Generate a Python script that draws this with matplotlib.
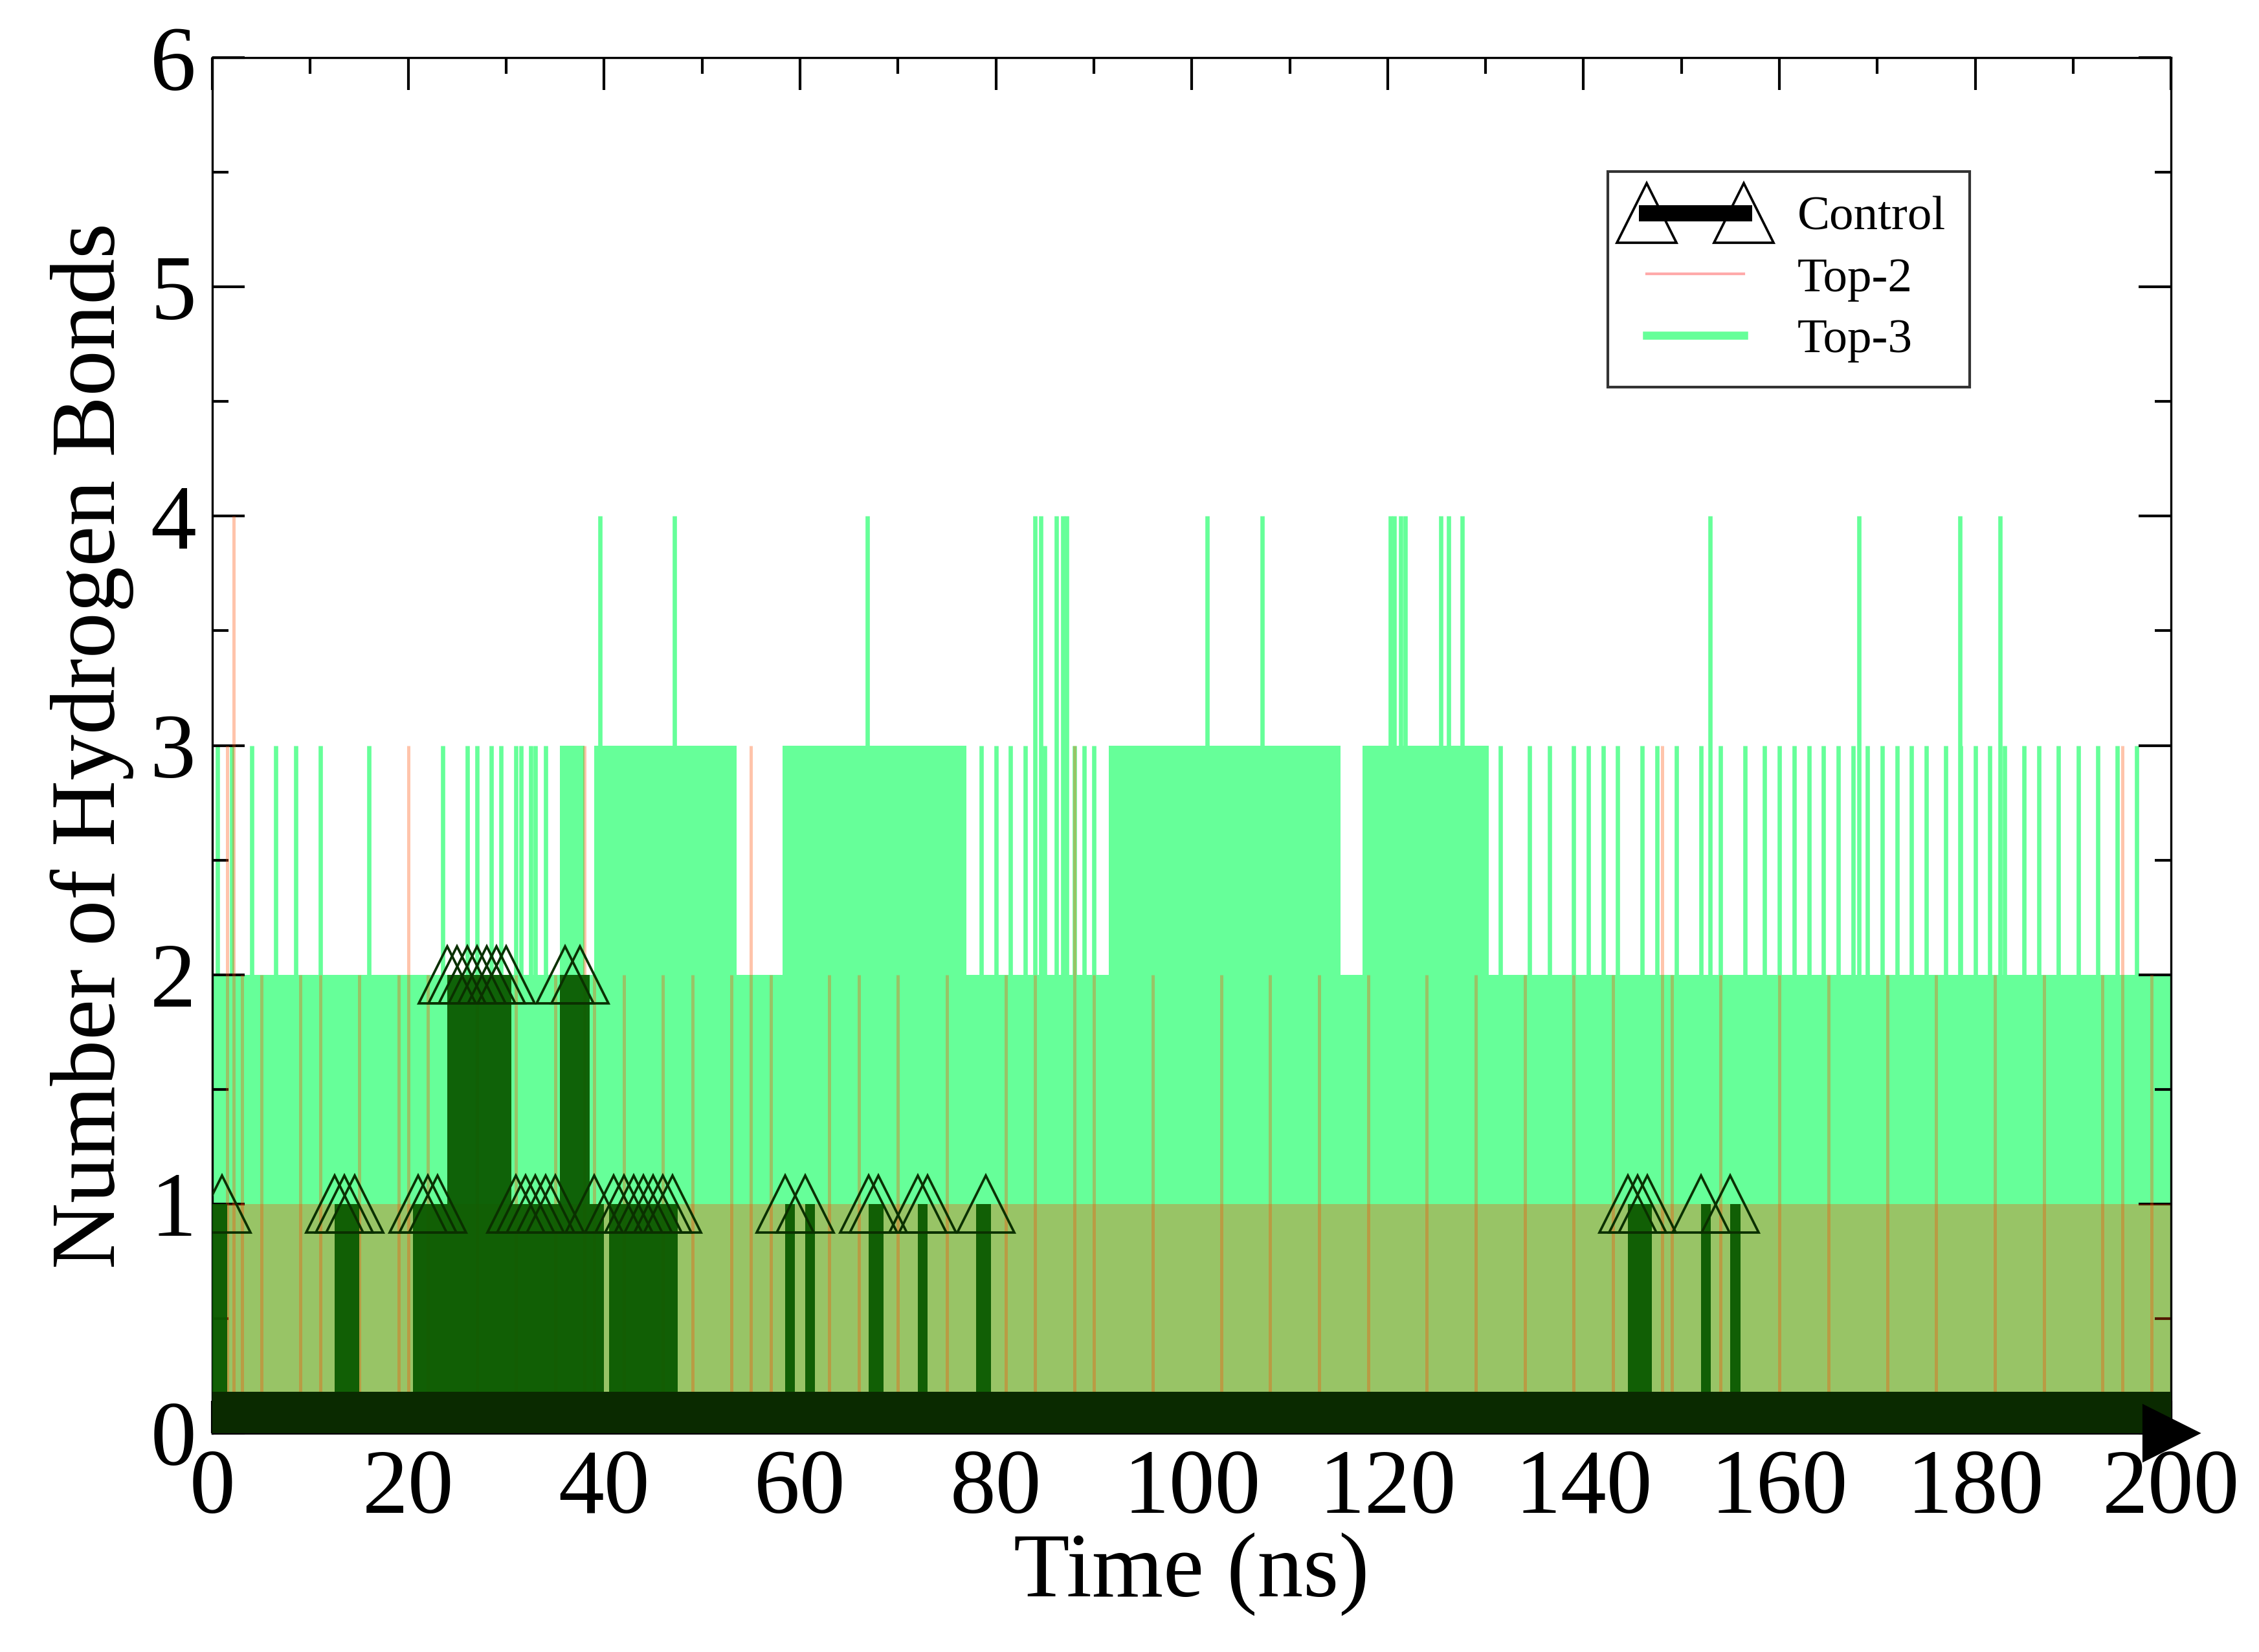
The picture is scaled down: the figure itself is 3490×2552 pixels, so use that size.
"""Hydrogen bond count over time for Control, Top-2 and Top-3 (xmgrace style)."""

import matplotlib

matplotlib.use("Agg")
import matplotlib.pyplot as plt
from matplotlib.lines import Line2D

# ---- data (time in ns) ----
# Control: intervals (start, end, n_hbonds) where count is above zero
control_segments = [
    (0.0, 1.5, 1), (12.5, 15.0, 1), (20.5, 24.0, 1), (24.0, 30.5, 2),
    (30.5, 35.5, 1), (35.5, 38.5, 2), (38.5, 40.0, 1), (40.5, 47.5, 1),
    (58.5, 59.5, 1), (60.5, 61.5, 1), (67.0, 68.5, 1), (72.0, 73.0, 1),
    (78.0, 79.5, 1), (144.5, 147.0, 1), (152.0, 153.0, 1), (155.0, 156.0, 1),
]
control_peaks1 = [1, 12.5, 13.5, 14.5, 21, 22, 23, 31, 32, 33, 34, 35, 39,
                  41, 42, 43, 44, 45, 46, 47, 58.5, 60.5, 67, 68, 72, 73, 79,
                  144.5, 145.5, 146.5, 152, 155]
control_peaks2 = [24, 25, 26, 27, 28, 29, 30, 36, 37.5]

# Top-2: band it fills most of the run, plus spikes
top2_band = [(0.0, 200.0, 0, 1)]
top2_spikes2 = [3, 5, 9, 11, 15, 19, 22, 27, 31, 35, 39, 42, 46, 49, 53, 57,
                63, 66, 70, 75, 81, 84, 90, 96, 103, 108, 113, 118, 124, 129,
                134, 139, 143, 149, 154, 160, 165, 171, 176, 182, 187, 193, 198]
top2_spikes3 = [1.5, 20, 38, 55, 88, 148, 195]
top2_spikes4 = [2.2]

# Top-3: dense band plus dense 3-regions and isolated spikes
top3_band = [(0.0, 200.0, 0, 2)]
top3_dense3 = [(35.5, 38.0), (39.0, 53.5), (58.2, 77.0), (91.5, 115.2),
               (117.4, 130.3)]
top3_spikes3 = [0.5, 2, 4, 6.5, 8.5, 11, 16, 23.5, 26, 27, 28.5, 29.5, 31,
                31.5, 32.5, 33, 34, 78.5, 80, 81.5, 83, 85, 88, 89, 90,
                131.5, 134.5, 136.5, 139, 140.5, 142, 143.5, 146, 147.5, 149.5,
                152, 154, 156.5, 158.5, 160, 161.5, 163, 164.5, 166, 167.5,
                169, 170.5, 172, 173.5, 175, 177, 178.5, 180, 181.5, 183, 185,
                186.5, 188.5, 190.5, 192.5, 194.5, 196.5]
top3_spikes4 = [39.6, 47.2, 66.9, 84.0, 84.6, 86.2, 86.8, 87.2, 101.6, 107.2,
                120.3, 120.7, 121.3, 121.8, 125.4, 126.2, 127.6, 152.9, 168.1,
                178.4, 182.5]

x_ticks = list(range(0, 201, 20))
y_ticks = list(range(0, 7))

CONTROL_COLOR = "black"
CONTROL_FILL = "#0a5a00"
TOP2_COLOR = "#ff4c00"
TOP2_ALPHA = 0.33
TOP3_COLOR = "#66ff99"


def _control_steps():
    xs, ys = [0.0], [0.0]
    for t0, t1, v in control_segments:
        xs += [t0, t0, t1, t1]
        ys += [0, v, v, 0]
    xs.append(200.0)
    ys.append(0.0)
    return xs, ys


def main() -> None:
    plt.rcParams["font.family"] = ["Liberation Serif", "DejaVu Serif"]
    fig = plt.figure(figsize=(11.635, 8.507), dpi=300)
    ax = fig.add_axes([0.094, 0.1325, 0.867, 0.8325])

    # Top-3 (bottom layer)
    for t0, t1, lo, hi in top3_band:
        ax.fill_between([t0, t1], lo, hi, color=TOP3_COLOR, lw=0, zorder=1)
    for t0, t1 in top3_dense3:
        ax.fill_between([t0, t1], 2, 3, color=TOP3_COLOR, lw=0, zorder=1)
    ax.vlines(top3_spikes3, 2, 3, color=TOP3_COLOR, lw=1.6, zorder=1)
    ax.vlines(top3_spikes4, 2, 4, color=TOP3_COLOR, lw=1.6, zorder=1)

    # Top-2 (translucent)
    for t0, t1, lo, hi in top2_band:
        ax.fill_between([t0, t1], lo, hi, color=TOP2_COLOR, alpha=TOP2_ALPHA,
                        lw=0, zorder=2)
    ax.vlines(top2_spikes2, 0, 2, color=TOP2_COLOR, alpha=TOP2_ALPHA, lw=1.2,
              zorder=2)
    ax.vlines(top2_spikes3, 0, 3, color=TOP2_COLOR, alpha=TOP2_ALPHA, lw=1.2,
              zorder=2)
    ax.vlines(top2_spikes4, 0, 4, color=TOP2_COLOR, alpha=TOP2_ALPHA, lw=1.2,
              zorder=2)

    # Control (on top)
    xs, ys = _control_steps()
    ax.fill_between(xs, 0, ys, color=CONTROL_FILL, alpha=0.95, lw=0, zorder=3)
    ax.fill_between([0, 200], 0, 0.18, color="#0a2a00", lw=0, zorder=3)
    ax.plot(control_peaks1, [1] * len(control_peaks1), ls="none", marker="^",
            ms=21, mfc="none", mec="#0a3000", mew=0.9, zorder=3)
    ax.plot(control_peaks2, [2] * len(control_peaks2), ls="none", marker="^",
            ms=21, mfc="none", mec="#0a3000", mew=0.9, zorder=3)
    ax.plot([200], [0], ls="none", marker=">", ms=20, color=CONTROL_COLOR,
            clip_on=False, zorder=3)

    ax.set_xlim(0, 200)
    ax.set_ylim(0, 6)
    ax.set_xticks(x_ticks)
    ax.set_yticks(y_ticks)
    ax.set_xticks(range(10, 200, 20), minor=True)
    ax.set_yticks([v + 0.5 for v in range(6)], minor=True)
    ax.tick_params(which="both", direction="in", top=True, right=True,
                   labelsize=34, pad=6)
    ax.tick_params(which="major", length=12, width=1)
    ax.tick_params(which="minor", length=6, width=1)
    ax.set_xlabel("Time (ns)", fontsize=34, labelpad=0)
    ax.set_ylabel("Number of Hydrogen Bonds", fontsize=34, labelpad=6)

    handles = [
        Line2D([], [], color=CONTROL_COLOR, lw=6, marker="^", ms=22,
               mfc="none", mec=CONTROL_COLOR, mew=0.9),
        Line2D([], [], color="#ffaaaa", lw=1.0),
        Line2D([], [], color=TOP3_COLOR, lw=3),
    ]
    leg = ax.legend(handles, ["Control", "Top-2", "Top-3"],
                    loc="upper left", bbox_to_anchor=(0.70, 0.935),
                    fontsize=18, numpoints=2, frameon=True, fancybox=False,
                    edgecolor="black", handlelength=2.6, borderpad=0.5,
                    labelspacing=0.35)
    leg.get_frame().set_linewidth(1.0)
    leg.set_zorder(10)

    fig.savefig("out.png", dpi=300, facecolor="white")
    plt.close(fig)


if __name__ == "__main__":
    main()
